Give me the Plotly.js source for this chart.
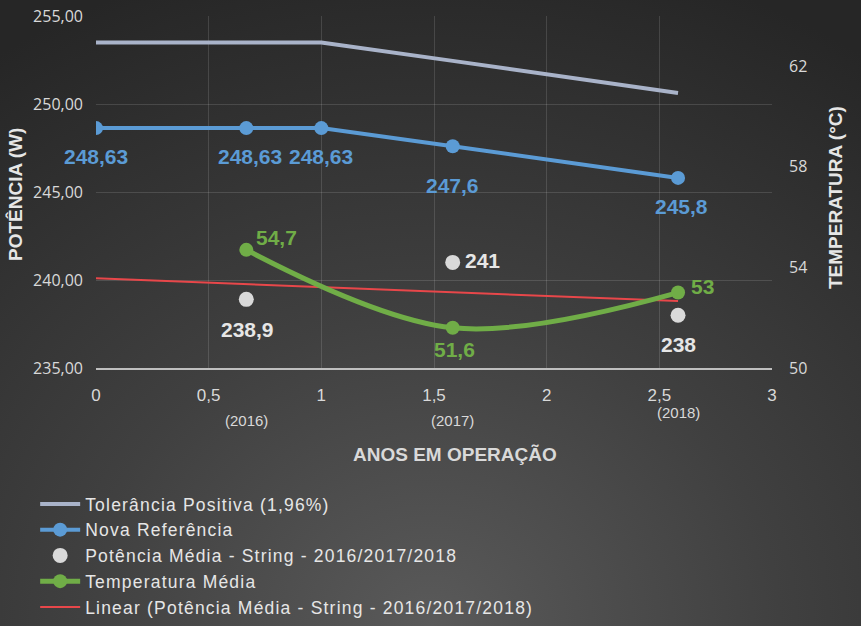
<!DOCTYPE html>
<html>
<head>
<meta charset="utf-8">
<script src="https://cdn.plot.ly/plotly-3.0.1.min.js"></script>
<style>
html,body{margin:0;padding:0;}
body{width:861px;height:626px;background:radial-gradient(ellipse 90% 110% at 50% 100%, #5a5a5a 0%, #404040 45%, #262626 100%);}
#chart{width:861px;height:626px;}
.legendtext{letter-spacing:1.2px;}
</style>
</head>
<body>
<div id="chart"></div>
<script>
// Data
const toleranciaX = [0, 0.667, 1, 1.583, 2.583];
const toleranciaY = [253.5, 253.5, 253.5, 252.45, 250.62];

const novaRefX = [0, 0.667, 1, 1.583, 2.583];
const novaRefY = [248.63, 248.63, 248.63, 247.6, 245.8];
const novaRefLabels = ["248,63", "248,63", "248,63", "247,6", "245,8"];

const potenciaX = [0.667, 1.583, 2.583];
const potenciaY = [238.9, 241, 238];
const potenciaLabels = ["238,9", "241", "238"];

const tempX = [0.667, 1.583, 2.583];
const tempY = [54.7, 51.6, 53];
const tempLabels = ["54,7", "51,6", "53"];

const linearX = [0, 2.583];
const linearY = [240.1, 238.8];

const yearX = [0.667, 1.583, 2.583];
const yearLabels = ["(2016)", "(2017)", "(2018)"];

const labelFont = "Liberation Sans, Arial, sans-serif";
const tickFont = "Open Sans, DejaVu Sans, sans-serif";
const narrowFont = "Liberation Sans Narrow, Arial Narrow, Liberation Sans, Arial, sans-serif";

const traces = [
  {x: toleranciaX, y: toleranciaY, name: "Tolerância Positiva (1,96%)", type: "scatter", mode: "lines",
   line: {color: "#a9b3c9", width: 4}},
  {x: novaRefX, y: novaRefY, name: "Nova Referência", type: "scatter", mode: "lines+markers",
   line: {color: "#5b9bd5", width: 4}, marker: {color: "#5b9bd5", size: 14}},
  {x: potenciaX, y: potenciaY, name: "Potência Média - String - 2016/2017/2018", type: "scatter", mode: "markers",
   marker: {color: "#d9d9d9", size: 15}},
  {x: tempX, y: tempY, name: "Temperatura Média", type: "scatter", mode: "lines+markers", yaxis: "y2",
   line: {color: "#70ad47", width: 5, shape: "spline"}, marker: {color: "#70ad47", size: 14}},
  {x: linearX, y: linearY, name: "Linear (Potência Média - String - 2016/2017/2018)", type: "scatter", mode: "lines",
   line: {color: "#e8474a", width: 2}}
];

// Data labels (positions from the data arrays, offsets in pixels)
const annotations = [];
const novaShift = [[0, -28], [4, -28], [0, -28], [0, -39], [3, -29]];
novaRefLabels.forEach((t, i) => annotations.push({
  x: novaRefX[i], y: novaRefY[i], xref: "x", yref: "y", text: t, showarrow: false,
  xshift: novaShift[i][0], yshift: novaShift[i][1],
  font: {family: labelFont, size: 21, color: "#5b9bd5", weight: "bold"}
}));
const potShift = [[1, -30, "center"], [10, 2, "left"], [0, -29, "center"]];
potenciaLabels.forEach((t, i) => annotations.push({
  x: potenciaX[i], y: potenciaY[i], xref: "x", yref: "y", text: t, showarrow: false,
  xanchor: potShift[i][2], xshift: potShift[i][0], yshift: potShift[i][1],
  font: {family: labelFont, size: 21, color: "#e6e6e6", weight: "bold"}
}));
const tempShift = [[8, 12, "left"], [2, -22, "center"], [11, 6, "left"]];
tempLabels.forEach((t, i) => annotations.push({
  x: tempX[i], y: tempY[i], xref: "x", yref: "y2", text: t, showarrow: false,
  xanchor: tempShift[i][2], xshift: tempShift[i][0], yshift: tempShift[i][1],
  font: {family: labelFont, size: 21, color: "#70ad47", weight: "bold"}
}));
yearX.forEach((x, i) => annotations.push({
  x: x, xref: "x", y: i === 2 ? -0.125 : -0.148, yref: "paper", yanchor: "middle", text: yearLabels[i], showarrow: false,
  font: {family: narrowFont, size: 15, color: "#d9d9d9"}
}));
annotations.push({x: (455 - 96) / 676, xref: "paper", xanchor: "center", y: -0.247, yref: "paper", yanchor: "middle",
  text: "ANOS EM OPERAÇÃO", showarrow: false,
  font: {family: narrowFont, size: 19, color: "#d9d9d9", weight: "bold"}});
annotations.push({x: (15 - 96) / 676, xref: "paper", xanchor: "center", y: (368 - 195) / 352, yref: "paper", yanchor: "middle",
  text: "POTÊNCIA (W)", textangle: -90, showarrow: false,
  font: {family: labelFont, size: 19, color: "#e6e6e6", weight: "bold"}});
annotations.push({x: (835 - 96) / 676, xref: "paper", xanchor: "center", y: (368 - 198) / 352, yref: "paper", yanchor: "middle",
  text: "TEMPERATURA (°C)", textangle: -90, showarrow: false,
  font: {family: labelFont, size: 19, color: "#e6e6e6", weight: "bold"}});

const layout = {
  width: 861, height: 626,
  paper_bgcolor: "rgba(0,0,0,0)", plot_bgcolor: "rgba(0,0,0,0)",
  margin: {l: 96, r: 89, t: 16, b: 258, autoexpand: false},
  separators: ",.",
  showlegend: true,
  legend: {x: -0.09, xanchor: "left", y: (368 - 486) / 352, yanchor: "top",
    bgcolor: "rgba(0,0,0,0)",
    font: {family: labelFont, size: 17.5, color: "#e6e6e6"}, tracegroupgap: 0, itemwidth: 40},
  xaxis: {range: [0, 3], dtick: 0.5, tick0: 0, showgrid: true, gridcolor: "rgba(255,255,255,0.13)", gridwidth: 1,
    zeroline: false, showline: true, linecolor: "#bfbfbf", linewidth: 2, ticks: "", ticklabelstandoff: 11,
    tickfont: {family: narrowFont, size: 17, color: "#d9d9d9"}, automargin: false},
  yaxis: {range: [235, 255], dtick: 5, tickformat: ".2f", showgrid: true, gridcolor: "rgba(255,255,255,0.13)",
    zeroline: false, showline: false, ticks: "", ticklabelstandoff: 12, automargin: false,
    tickfont: {family: tickFont, size: 16, color: "#d9d9d9"}},
  yaxis2: {range: [50, 64], dtick: 4, tick0: 50, overlaying: "y", side: "right", showgrid: false, zeroline: false,
    showline: false, ticks: "", ticklabelstandoff: 16, automargin: false,
    tickfont: {family: tickFont, size: 16, color: "#d9d9d9"}},
  annotations: annotations
};

Plotly.newPlot("chart", traces, layout, {displayModeBar: false, staticPlot: true});
</script>
</body>
</html>
